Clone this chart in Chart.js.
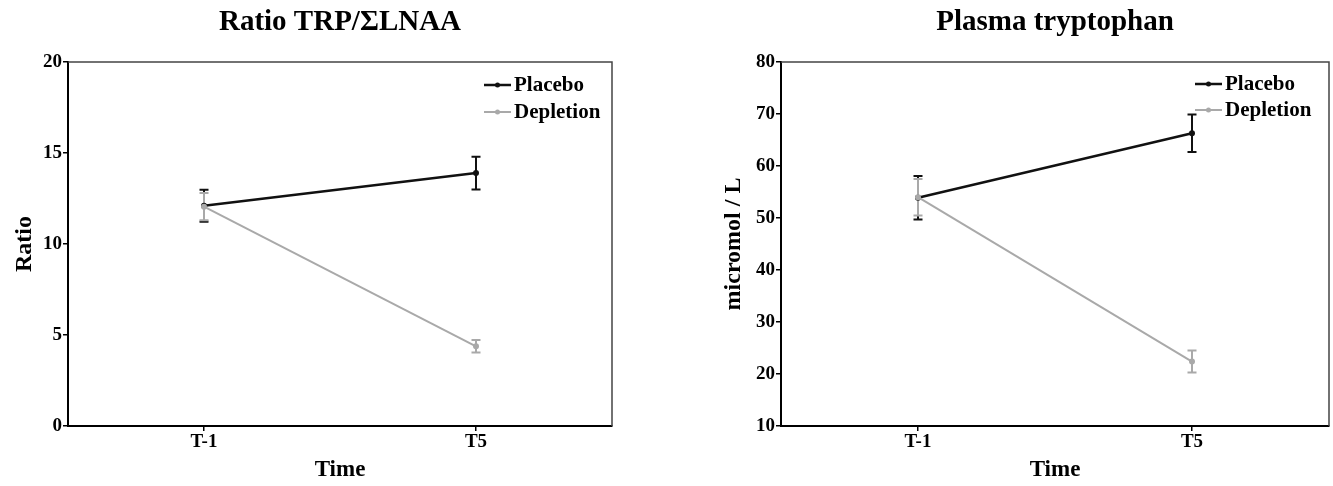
<!DOCTYPE html>
<html><head><meta charset="utf-8">
<script src="https://cdn.jsdelivr.net/npm/chart.js@4"></script>
<style>
html,body{margin:0;padding:0;background:#fff;width:1333px;height:486px;overflow:hidden}
#c1{position:absolute;left:0;top:0}
#c2{position:absolute;left:660px;top:0}
</style></head><body>
<canvas id="c1" width="660" height="486"></canvas>
<canvas id="c2" width="673" height="486"></canvas>
<script>
// ---- data ----
const timepoints = ['T-1', 'T5'];
const seriesNames = ['Placebo', 'Depletion'];
const ratioPlacebo = [12.1, 13.9];
const ratioPlaceboErr = [0.88, 0.9];
const ratioDepletion = [12.05, 4.38];
const ratioDepletionErr = [0.75, 0.34];
const trpPlacebo = [53.9, 66.3];
const trpPlaceboErr = [4.2, 3.6];
const trpDepletion = [54.0, 22.4];
const trpDepletionErr = [3.5, 2.1];
const ratioTicks = [0, 20, 5];   // min, max, step
const trpTicks = [10, 80, 10];

const FONT = "'Liberation Serif', 'Times New Roman', serif";
const BLACK = '#111111';
const GREY = '#a9a9a9';

const errorBarPlugin = {
  id: 'errbars',
  beforeDatasetsDraw(chart) {
    const ctx = chart.ctx, ys = chart.scales.y;
    chart.data.datasets.forEach((ds, i) => {
      const meta = chart.getDatasetMeta(i);
      ctx.save();
      ctx.strokeStyle = ds.borderColor;
      ctx.lineWidth = 2;
      ds.errors.forEach((e, j) => {
        const x = meta.data[j].x;
        const yt = ys.getPixelForValue(ds.data[j] + e);
        const yb = ys.getPixelForValue(ds.data[j] - e);
        ctx.beginPath();
        ctx.moveTo(x, yt); ctx.lineTo(x, yb);
        ctx.moveTo(x - 4.5, yt); ctx.lineTo(x + 4.5, yt);
        ctx.moveTo(x - 4.5, yb); ctx.lineTo(x + 4.5, yb);
        ctx.stroke();
      });
      ctx.restore();
    });
  }
};

const framePlugin = {
  id: 'frame',
  beforeDatasetsDraw(chart) {
    const {ctx, chartArea: a} = chart;
    ctx.save();
    ctx.strokeStyle = '#444';
    ctx.lineWidth = 1.5;
    ctx.beginPath();
    ctx.moveTo(a.left, a.top); ctx.lineTo(a.right, a.top); ctx.lineTo(a.right, a.bottom);
    ctx.stroke();
    ctx.restore();
  }
};

const keyPlugin = {
  id: 'serieskey',
  afterDraw(chart, args, opts) {
    const ctx = chart.ctx;
    ctx.save();
    chart.data.datasets.forEach((ds, i) => {
      const y = opts.y + i * opts.step;
      ctx.strokeStyle = ds.borderColor;
      ctx.lineWidth = ds.borderWidth;
      ctx.beginPath(); ctx.moveTo(opts.x, y); ctx.lineTo(opts.x + 27, y); ctx.stroke();
      ctx.fillStyle = ds.borderColor;
      ctx.beginPath(); ctx.arc(opts.x + 13.5, y, 2.5, 0, Math.PI * 2); ctx.fill();
      ctx.fillStyle = '#000';
      ctx.font = "bold 21px " + FONT;
      ctx.textBaseline = 'middle';
      ctx.textAlign = 'left';
      ctx.fillText(ds.label, opts.x + 30, y + 1);
    });
    ctx.restore();
  }
};

function makeChart(id, cfg) {
  return new Chart(document.getElementById(id), {
    type: 'line',
    data: {
      labels: timepoints,
      datasets: [
        {label: seriesNames[0], data: cfg.p, errors: cfg.pe, borderColor: BLACK, backgroundColor: BLACK,
         borderWidth: 2.5, pointRadius: 3, pointBorderWidth: 0, tension: 0, order: 2},
        {label: seriesNames[1], data: cfg.d, errors: cfg.de, borderColor: GREY, backgroundColor: GREY,
         borderWidth: 2, pointRadius: 3, pointBorderWidth: 0, tension: 0, order: 1}
      ]
    },
    options: {
      responsive: false,
      animation: false,
      layout: {padding: {left: 0, right: cfg.padRight, top: 0, bottom: 0}},
      plugins: {
        legend: {display: false},
        tooltip: {enabled: false},
        title: {display: true, text: cfg.title, fullSize: false, color: '#000',
                font: {family: FONT, size: 29, weight: 'bold'}, padding: {top: 5, bottom: 22.2}},
        serieskey: {x: cfg.keyX, y: cfg.keyY, step: cfg.keyStep}
      },
      scales: {
        x: {
          type: 'category', offset: true,
          grid: {offset: false, drawOnChartArea: false, drawTicks: true, tickLength: 5, color: '#000', lineWidth: 1.5},
          border: {display: true, color: '#000', width: 2},
          ticks: {color: '#000', font: {family: FONT, size: 19, weight: 'bold'}, padding: 0, maxRotation: 0},
          title: {display: true, text: 'Time', color: '#000', font: {family: FONT, size: 23, weight: 'bold'}, padding: {top: 0, bottom: 2}},
          afterFit(s) { s.height = 60; }
        },
        y: {
          min: cfg.ticks[0], max: cfg.ticks[1],
          grid: {drawOnChartArea: false, drawTicks: true, tickLength: 5, color: '#000', lineWidth: 1.5},
          border: {display: true, color: '#000', width: 2},
          ticks: {stepSize: cfg.ticks[2], color: '#000', font: {family: FONT, size: 19, weight: 'bold'}, padding: 1},
          title: {display: true, text: cfg.yTitle, color: '#000', font: {family: FONT, size: 24, weight: 'bold'}, padding: {top: cfg.yTitlePad, bottom: 0}},
          afterFit(s) { s.width = cfg.yWidth; }
        }
      }
    },
    plugins: [errorBarPlugin, framePlugin, keyPlugin]
  });
}

makeChart('c1', {
  title: 'Ratio TRP/ΣLNAA', yTitle: 'Ratio', ticks: ratioTicks,
  p: ratioPlacebo, pe: ratioPlaceboErr, d: ratioDepletion, de: ratioDepletionErr,
  padRight: 48, yWidth: 68, yTitlePad: 10, keyX: 484, keyY: 85, keyStep: 27
});
makeChart('c2', {
  title: 'Plasma tryptophan', yTitle: 'micromol / L', ticks: trpTicks,
  p: trpPlacebo, pe: trpPlaceboErr, d: trpDepletion, de: trpDepletionErr,
  padRight: 4, yWidth: 121, yTitlePad: 59, keyX: 535, keyY: 84, keyStep: 26
});
</script>
</body></html>
